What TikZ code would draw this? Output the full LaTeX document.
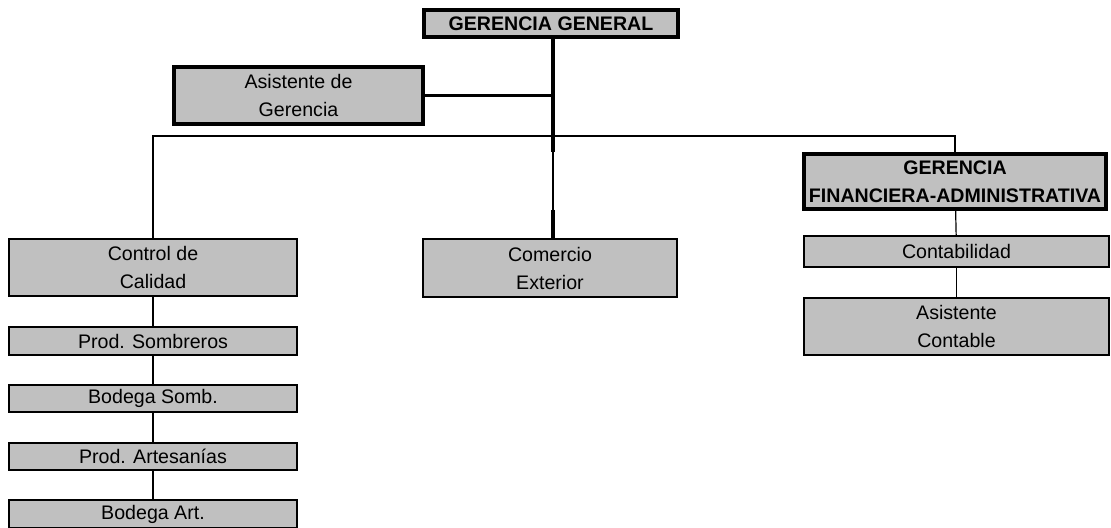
\documentclass[tikz,border=0pt]{standalone}
\usepackage{fontspec}
\setmainfont{Liberation Sans}
\usepackage{tikz}
\usetikzlibrary{calc}
\usepackage{xcolor}
\definecolor{cajagris}{RGB}{192,192,192}

\begin{document}
\begin{tikzpicture}[x=0.5pt,y=-0.5pt]

\def\lw{0.6pt}
\def\lwbox{1.1pt}
\def\lwblk{1.9pt}
\def\lwtr{1.65pt}
\def\lwas{1.3pt}

\tikzset{
caja/.style = {draw=black, fill=cajagris, line width=\lwbox, inner sep=0pt, align=center,
  font=\fontsize{9.8pt}{14pt}\selectfont},
cajablk/.style = {caja, line width=\lwblk},
jefe/.style = {cajablk, font=\fontsize{9.8pt}{14pt}\selectfont\bfseries},
conn/.style = {draw=black, line width=\lw}
}

\useasboundingbox (0,0) rectangle (1111,528);
%\draw [help lines, step=50] (0,0) grid (1111,528);

\node[jefe, minimum width=127pt, minimum height=13.6pt] (gg) at (551,23.5) {GERENCIA GENERAL};
\node[cajablk, minimum width=124.6pt, minimum height=28.6pt] (asis) at (298.5,95.5) {Asistente de\\Gerencia};

\node[caja, minimum width=143.9pt, minimum height=28.4pt] (ctrl) at (153,267.5) {Control de\\Calidad};
\node[caja, minimum width=126.9pt, minimum height=28.9pt] (come) at (550,268) {Comercio\\Exterior};
\node[jefe, minimum width=151pt, minimum height=27.6pt] (gfa) at (955,181.5) {GERENCIA\\FINANCIERA-ADMINISTRATIVA};

\node[caja, minimum width=152.4pt, minimum height=15.4pt] (conta) at (956.5,251.5) {Contabilidad};
\node[caja, minimum width=152.4pt, minimum height=28.4pt] (asico) at (956.5,326.5) {Asistente\\Contable};

\node[caja, minimum width=143.9pt, minimum height=13.9pt] (prods) at (153,341) {Prod. Sombreros};
\node[caja, minimum width=143.9pt, minimum height=13.4pt] (bods) at (153,398.5) {Bodega Somb.};
\node[caja, minimum width=143.9pt, minimum height=13.4pt] (proda) at (153,456.5) {Prod. Artesanías};
\node[caja, minimum width=143.9pt, minimum height=13.9pt] (boda) at (153,514) {Bodega Art.};

\coordinate (tr1) at (553,152);
\coordinate (tr2) at (553,210);
\coordinate (bar) at (553,136);

\draw[line width=\lwtr] (tr1 |- gg.south) -- (tr1);
\draw[conn] (tr1) -- (tr2);
\draw[line width=\lwtr] (tr2) -- (tr2 |- come.north);
\draw[line width=\lwas] (asis.east) -- (asis.east -| tr1);

\draw[conn] (ctrl.north) |- (bar) -| (gfa.north);

\foreach \a/\b in {ctrl/prods,prods/bods,bods/proda,proda/boda,gfa/conta,conta/asico}
  \draw[conn] (\a) -- (\b);

\end{tikzpicture}
\end{document}
